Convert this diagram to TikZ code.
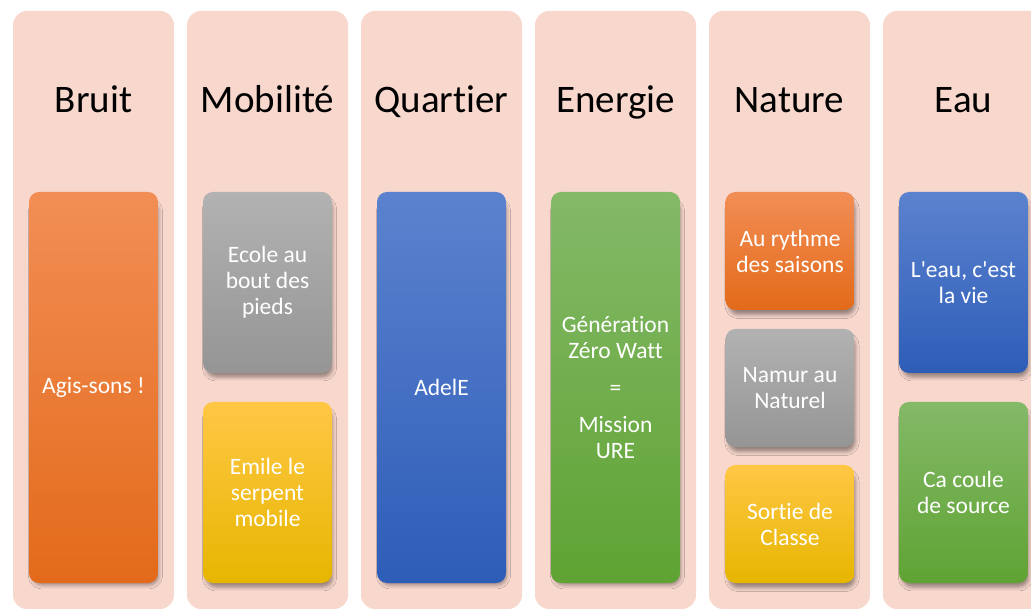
\documentclass[tikz,border=0pt]{standalone}
\usepackage{fontspec}
\setmainfont{Carlito}[Ligatures={NoCommon}]
\usepackage{tikz}
\usetikzlibrary{positioning, shadows.blur}
\usepackage{xcolor}

\definecolor{colpink}{HTML}{F8D7CD}
\definecolor{orangetop}{HTML}{F28E55}
\definecolor{orangebot}{HTML}{E36A1A}
\definecolor{graytop}{HTML}{B2B2B2}
\definecolor{graybot}{HTML}{959595}
\definecolor{bluetop}{HTML}{5B82CE}
\definecolor{bluebot}{HTML}{2E5DB8}
\definecolor{greentop}{HTML}{84B968}
\definecolor{greenbot}{HTML}{5FA333}
\definecolor{yellowtop}{HTML}{FFC745}
\definecolor{yellowbot}{HTML}{E6B600}

\begin{document}
\begin{tikzpicture}[x=1pt,y=1pt,node distance=174pt,on grid]
    \tikzstyle{column}=[shape=rectangle,fill=colpink,rounded corners=14pt,minimum width=161pt,minimum height=598pt,inner sep=0pt]
    \tikzstyle{title}=[anchor=base,font=\fontsize{39}{47}\selectfont]
    \tikzstyle{activity}=[shape=rectangle,rounded corners=10pt,minimum width=129pt,text=white,align=center,
        font=\fontsize{23.5}{26}\selectfont,
        blur shadow={shadow xshift=2pt,shadow yshift=-6pt,shadow blur radius=4pt,shadow scale=0.98,shadow opacity=40}]
    \tikzstyle{orange}=[top color=orangetop,bottom color=orangebot]
    \tikzstyle{grey}=[top color=graytop,bottom color=graybot]
    \tikzstyle{blue}=[top color=bluetop,bottom color=bluebot]
    \tikzstyle{green}=[top color=greentop,bottom color=greenbot]
    \tikzstyle{yellow}=[top color=yellowtop,bottom color=yellowbot]

    \useasboundingbox (0,0) rectangle (1031,608);
    \clip (0,0) rectangle (1031,608);

    % columns
    \node[column] (C1) at (93.5,298) {};
    \node[column, right of=C1] (C2) {};
    \node[column, right of=C2] (C3) {};
    \node[column, right of=C3] (C4) {};
    \node[column, right of=C4] (C5) {};
    \node[column, right of=C5] (C6) {};

    % titles
    \node[title] (T1) at (93.5,495) {Bruit};
    \node[title] (T2) at (267.5,495) {Mobilité};
    \node[title] (T3) at (441.5,495) {Quartier};
    \node[title] (T4) at (615.5,495) {Energie};
    \node[title] (T5) at (789.5,495) {Nature};
    \node[title] (T6) at (963.5,495) {Eau};

    % activities
    \node[activity, orange, minimum height=391pt] (A1) at (93.5,220.5) {Agis-sons !};
    \node[activity, grey, minimum height=181pt] (A2a) at (267.5,325.5) {Ecole au\\bout des\\pieds};
    \node[activity, yellow, minimum height=181pt] (A2b) at (267.5,115.5) {Emile le\\serpent\\mobile};
    \node[activity, blue, minimum height=391pt] (A3) at (441.5,220.5) {AdelE};
    \node[activity, green, minimum height=391pt] (A4) at (615.5,220.5) {Génération\\Zéro Watt\\[11pt]=\\[11pt]Mission\\URE};
    \node[activity, orange, minimum height=118pt] (A5a) at (790,357) {Au rythme\\des saisons};
    \node[activity, grey, minimum height=118pt] (A5b) at (790,220) {Namur au\\Naturel};
    \node[activity, yellow, minimum height=118pt] (A5c) at (790,84) {Sortie de\\Classe};
    \node[activity, blue, minimum height=181pt] (A6a) at (963.5,325.5) {L\textquotesingle eau, c\textquotesingle est\\la vie};
    \node[activity, green, minimum height=181pt] (A6b) at (963.5,115.5) {Ca coule\\de source};
\end{tikzpicture}
\end{document}
